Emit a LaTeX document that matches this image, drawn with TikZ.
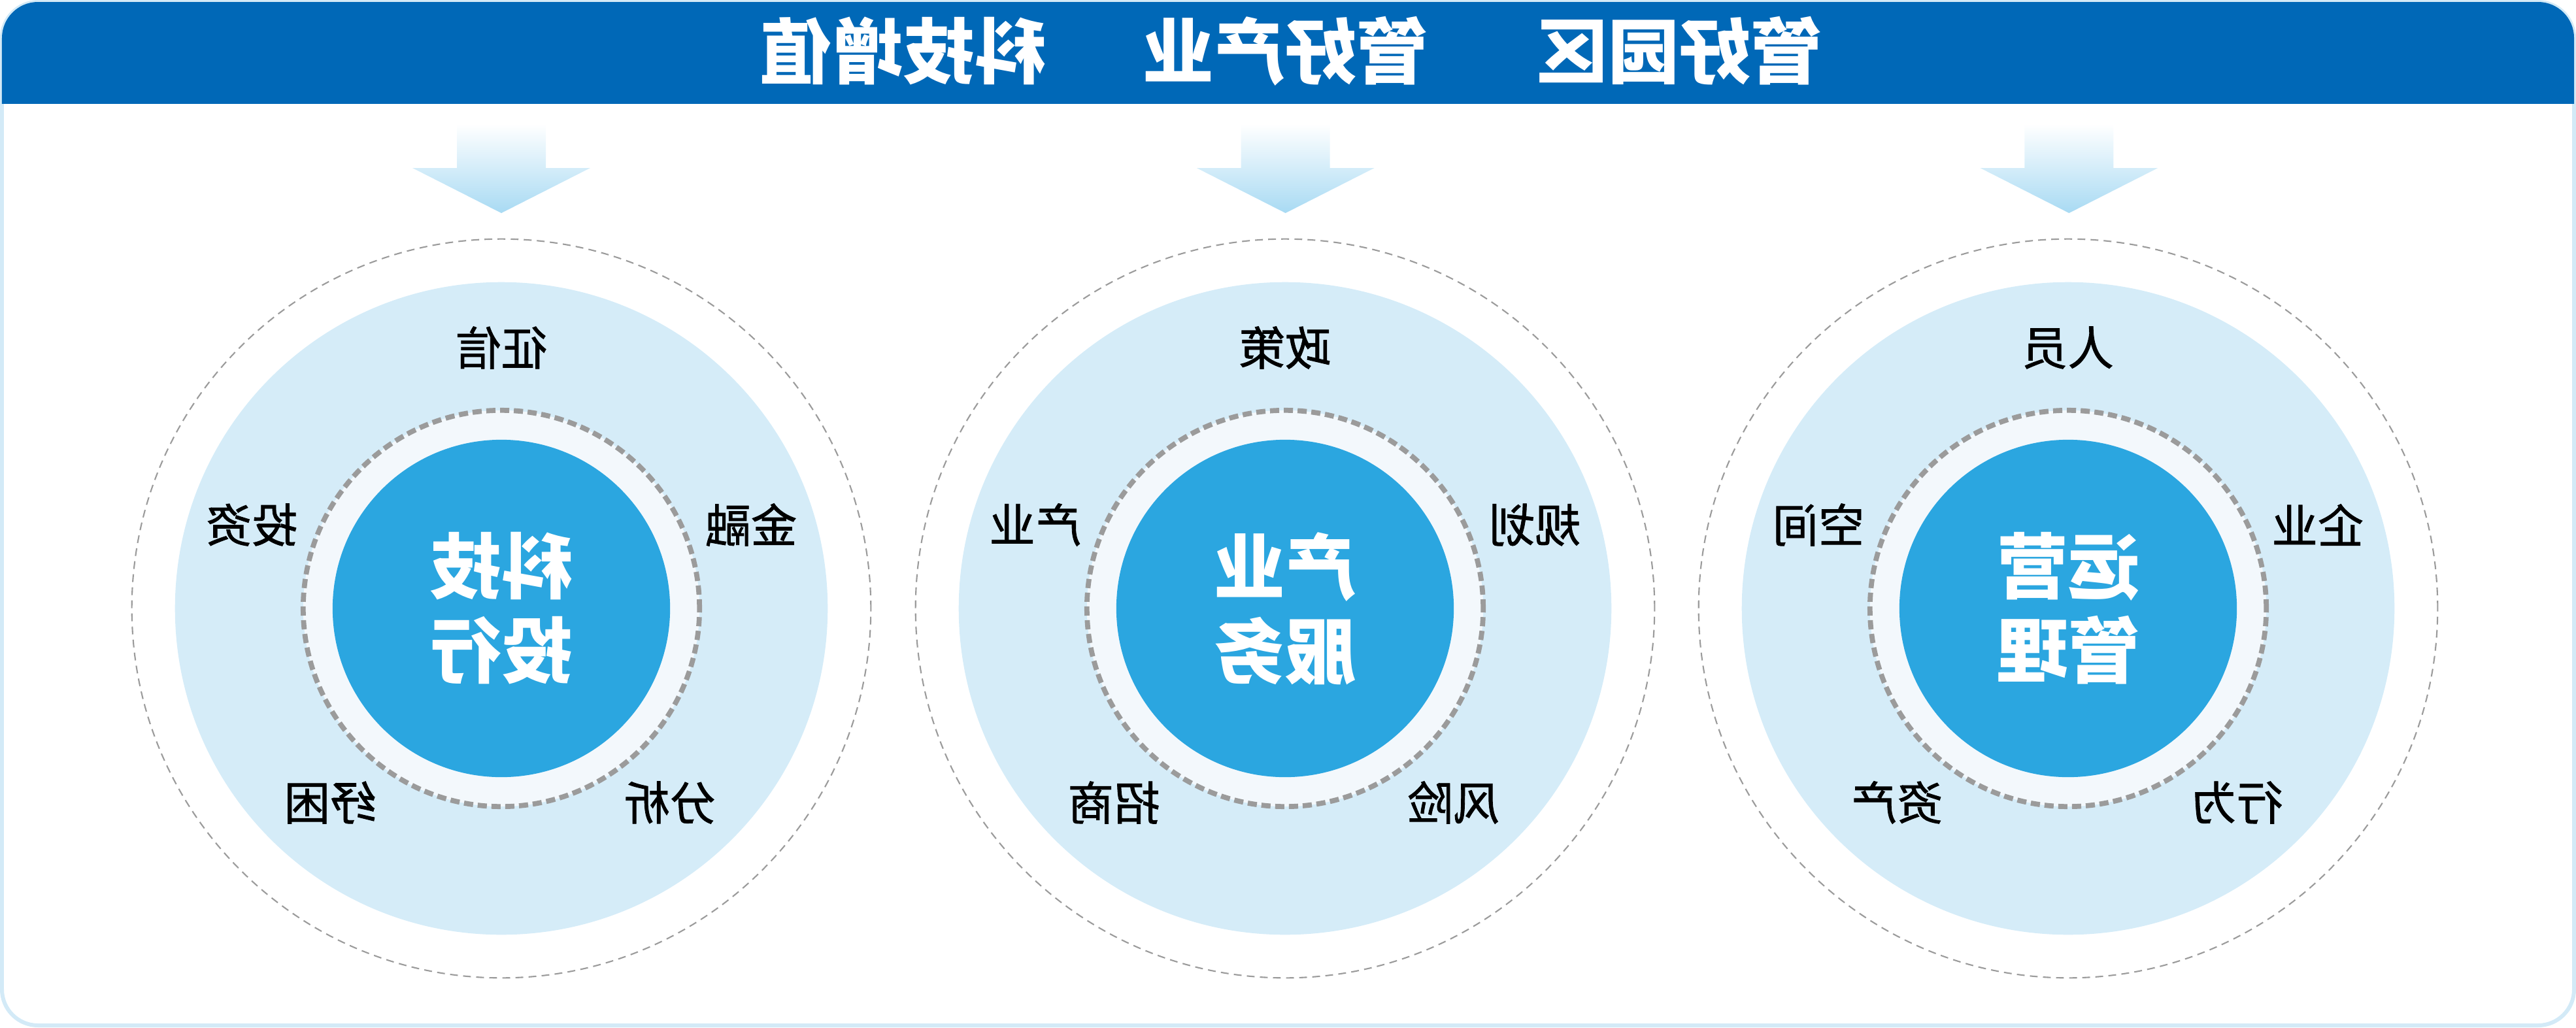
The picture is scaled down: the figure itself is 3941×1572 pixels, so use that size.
\documentclass[tikz,border=0pt]{standalone}
\usepackage{fontspec}
\usepackage{graphicx}
\newfontfamily\cjk{Noto Sans CJK SC}
\newfontfamily\cjkmed[FakeBold=1.2]{Noto Sans CJK SC}
\usetikzlibrary{positioning}
\definecolor{headblue}{HTML}{0068B7}
\definecolor{ringblue}{HTML}{D5ECF8}
\definecolor{coreblue}{HTML}{2BA6E0}
\definecolor{rimfill}{HTML}{F3F8FC}
\definecolor{framecol}{HTML}{D3EAF7}
\definecolor{arrowtip}{HTML}{A8DAF3}
\definecolor{dashgray}{HTML}{9B9B9B}
\newcommand{\flip}[1]{\reflectbox{#1}}

\begin{document}
\begin{tikzpicture}[
    x=0.01cm, y=-0.01cm,
    font=\cjk,
    % Estilos de los circulos
    halo/.style={circle, draw=dashgray, dash pattern=on 3.4pt off 2.3pt, line width=0.6pt, minimum size=11.3cm, inner sep=0pt},
    disc/.style={circle, fill=ringblue, minimum size=9.98cm, inner sep=0pt},
    rim/.style={circle, fill=rimfill, draw=dashgray, dash pattern=on 4pt off 2pt, line width=2.2pt, minimum size=6.06cm, inner sep=0pt},
    core/.style={circle, fill=coreblue, text=white, minimum size=5.16cm, inner sep=0pt, align=center, font=\cjk\bfseries\fontsize{31}{36.7}\selectfont},
    % Estilos de los textos
    tag/.style={font=\cjkmed\fontsize{20}{24}\selectfont, text=black},
    motto/.style={font=\cjk\bfseries\fontsize{31}{36}\selectfont, text=white},
    downarrow/.style={top color=white, bottom color=arrowtip, draw=none}
]
\useasboundingbox (0,0) rectangle (3941,1572);

% -- Marco y cabecera --
\draw[framecol, line width=1.7pt, rounded corners=0.55cm] (3,3) rectangle (3938,1569);
\begin{scope}
    \clip (0,0) rectangle (3941,158);
    \fill[headblue, rounded corners=0.55cm] (3,3) rectangle (3938,400);
\end{scope}

\node[motto] (motto1) at (1382,78) {\flip{科技增值}};
\node[motto] (motto2) at (1966,78) {\flip{管好产业}};
\node[motto] (motto3) at (2569,78) {\flip{管好园区}};

% -- Flechas --
\shade[downarrow] (699,190) -- (835,190) -- (835,257) -- (903,257) -- (767,326) -- (631,257) -- (699,257) -- cycle;
\shade[downarrow, xshift=11.99cm] (699,190) -- (835,190) -- (835,257) -- (903,257) -- (767,326) -- (631,257) -- (699,257) -- cycle;
\shade[downarrow, xshift=23.97cm] (699,190) -- (835,190) -- (835,257) -- (903,257) -- (767,326) -- (631,257) -- (699,257) -- cycle;

% -- Grupo 1 --
\node[halo] (halo1) at (767,931) {};
\node[disc] (disc1) at (halo1) {};
\node[rim] (rim1) at (halo1) {};
\node[core] (core1) at (halo1) {\flip{科技}\\\flip{投行}};
\node[tag] (g1top) at ([shift={(0,-399)}]core1) {\flip{征信}};
\node[tag] (g1left) at ([shift={(-382,-128)}]core1) {\flip{投资}};
\node[tag] (g1right) at ([shift={(382,-128)}]core1) {\flip{金融}};
\node[tag] (g1ll) at ([shift={(-262,297)}]core1) {\flip{纾困}};
\node[tag] (g1lr) at ([shift={(258,297)}]core1) {\flip{分析}};

% -- Grupo 2 --
\node[halo] (halo2) at (1966,931) {};
\node[disc] (disc2) at (halo2) {};
\node[rim] (rim2) at (halo2) {};
\node[core] (core2) at (halo2) {\flip{产业}\\\flip{服务}};
\node[tag] (g2top) at ([shift={(0,-399)}]core2) {\flip{政策}};
\node[tag] (g2left) at ([shift={(-382,-128)}]core2) {\flip{产业}};
\node[tag] (g2right) at ([shift={(382,-128)}]core2) {\flip{规划}};
\node[tag] (g2ll) at ([shift={(-262,297)}]core2) {\flip{招商}};
\node[tag] (g2lr) at ([shift={(258,297)}]core2) {\flip{风险}};

% -- Grupo 3 --
\node[halo] (halo3) at (3164,931) {};
\node[disc] (disc3) at (halo3) {};
\node[rim] (rim3) at (halo3) {};
\node[core] (core3) at (halo3) {\flip{运营}\\\flip{管理}};
\node[tag] (g3top) at ([shift={(0,-399)}]core3) {\flip{人员}};
\node[tag] (g3left) at ([shift={(-382,-128)}]core3) {\flip{空间}};
\node[tag] (g3right) at ([shift={(382,-128)}]core3) {\flip{企业}};
\node[tag] (g3ll) at ([shift={(-262,297)}]core3) {\flip{资产}};
\node[tag] (g3lr) at ([shift={(258,297)}]core3) {\flip{行为}};

\end{tikzpicture}
\end{document}
